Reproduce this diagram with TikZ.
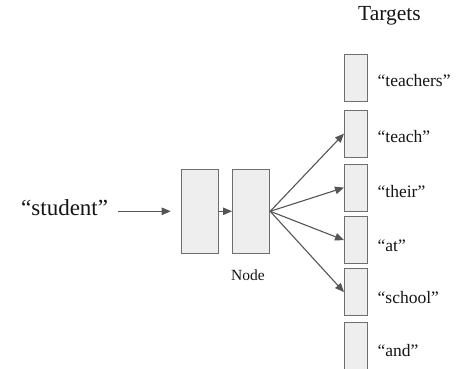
\documentclass[tikz,border=0pt]{standalone}
\usepackage{fontspec}
\setmainfont{Liberation Serif}
\usetikzlibrary{arrows.meta}
\definecolor{boxfill}{HTML}{EEEEEE}
\definecolor{boxline}{HTML}{6E6E6E}
\definecolor{arrowcol}{HTML}{555555}
\definecolor{textcol}{HTML}{151515}
\tikzset{
  cell/.style={draw=boxline, fill=boxfill, line width=1.2pt, inner sep=0pt, anchor=north west},
  bigcell/.style={cell, minimum width=37pt, minimum height=84pt},
  tcell/.style={cell, minimum width=23pt, minimum height=47pt},
  link/.style={draw=arrowcol, line width=1.1pt, -{Triangle[length=9pt,width=7.5pt]}},
  word/.style={text=textcol, inner sep=0pt, anchor=base west, font=\fontsize{17.5}{20}\selectfont},
}
\begin{document}
\begin{tikzpicture}[x=1pt,y=-1pt]
  \useasboundingbox (0,0) rectangle (466,368);

  % input word and the two hidden units
  \node[word, font=\fontsize{23}{26}\selectfont] (student) at (21,215.7) {“student”};
  \node[bigcell] (n1) at (180.7,168.7) {};
  \node[bigcell] (n2) at (232,168.7) {};
  \node[word, font=\fontsize{15.5}{18}\selectfont] (nodelbl) at (231,280.7) {Node};

  % target column
  \node[word, font=\fontsize{21.5}{24}\selectfont] (title) at (358,20.7) {Targets};
  \node[tcell] (t1) at (344,54) {};
  \node[tcell] (t2) at (344,109.5) {};
  \node[tcell] (t3) at (344,163.5) {};
  \node[tcell] (t4) at (344,216) {};
  \node[tcell] (t5) at (344,268) {};
  \node[tcell] (t6) at (344,321.7) {};

  \node[word] (w1) at (377.5,86) {“teachers”};
  \node[word] (w2) at (377.5,142.5) {“teach”};
  \node[word] (w3) at (377.5,197.5) {“their”};
  \node[word] (w4) at (377.5,251.5) {“at”};
  \node[word] (w5) at (377.5,303) {“school”};
  \node[word] (w6) at (377.5,356) {“and”};

  % connections
  \draw[link, shorten <=10pt, shorten >=10pt] (student.east |- n1.west) -- (n1.west);
  \draw[link] (n1.east) -- (n2.west);
  \draw[link] (n2.east) -- (t2.west);
  \draw[link] (n2.east) -- (t3.west);
  \draw[link] (n2.east) -- (t4.west);
  \draw[link] (n2.east) -- (t5.west);
\end{tikzpicture}
\end{document}
